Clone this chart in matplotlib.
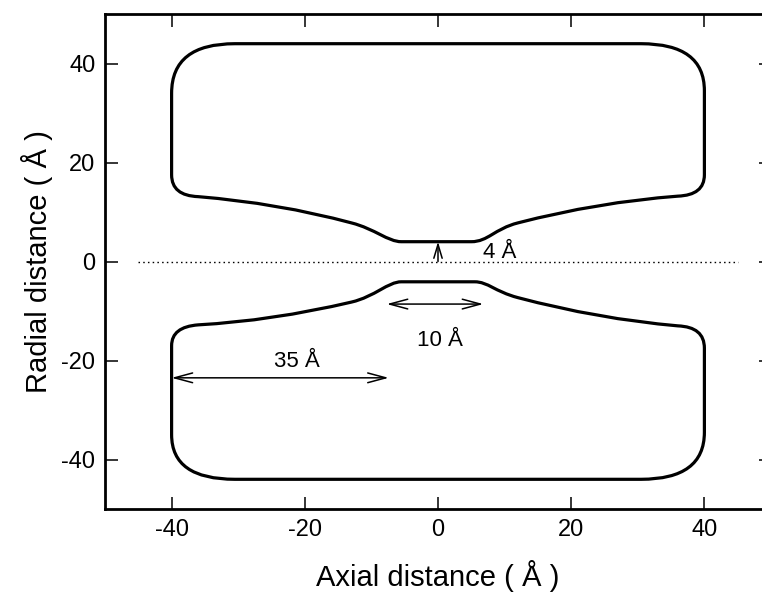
import matplotlib
matplotlib.use("Agg")
import matplotlib.pyplot as plt
from matplotlib.path import Path
from matplotlib.patches import PathPatch

plt.rcParams['font.family'] = ['Liberation Sans', 'DejaVu Sans']
plt.rcParams['axes.unicode_minus'] = False

# ---- data: pore outline (upper and lower halves), as path vertices + codes ----
M, L, C3, C4, CL = Path.MOVETO, Path.LINETO, Path.CURVE3, Path.CURVE4, Path.CLOSEPOLY

upper_verts = [(-40, 17.5), (-40, 34.0),
               (-40, 44.0), (-30.5, 44.0),
               (30.5, 44.0),
               (40, 44.0), (40, 34.5),
               (40, 17.5),
               (40, 13.4), (36, 13.2),
               (24, 12.0), (12, 7.8),
               (8.5, 6.6), (7.5, 4.0), (5.0, 4.0),
               (-5.5, 4.0),
               (-7.5, 4.0), (-9.5, 6.6), (-13.0, 7.8),
               (-24, 11.8), (-36, 13.1),
               (-40, 13.3), (-40, 17.5),
               (-40, 17.5)]
upper_codes = [M, L, C3, C3, L, C3, C3, L, C3, C3, C3, C3, C4, C4, C4, L,
               C4, C4, C4, C3, C3, C3, C3, CL]

lower_verts = [(-40, -17.0), (-40, -35.0),
               (-40, -44.0), (-30.5, -44.0),
               (30.5, -44.0),
               (40, -44.0), (40, -34.5),
               (40, -17.5),
               (40, -13.2), (36, -13.0),
               (24, -11.6), (12, -7.3),
               (8.5, -6.05), (7.5, -4.1), (5.5, -4.1),
               (-5.5, -4.1),
               (-7.5, -4.1), (-9.5, -7.1), (-13.0, -8.2),
               (-25, -12.0), (-36, -12.8),
               (-40, -13.2), (-40, -17.0),
               (-40, -17.0)]
lower_codes = upper_codes

axis_line_x = [-45, 45]
axis_line_y = [0, 0]

xticks = [-40, -20, 0, 20, 40]
yticks = [-40, -20, 0, 20, 40]

# annotations: (x0, y0, x1, y1)
arrow_4A = (0, 0, 0, 4)
arrow_10A = (-7.7, -8.6, 6.8, -8.6)
arrow_35A = (-40, -23.5, -7.4, -23.5)
label_4A = ("4 Å", 9.3, 1.9)
label_10A = ("10 Å", 0.3, -16.0)
label_35A = ("35 Å", -21.2, -20.3)

# ---- figure ----
fig = plt.figure(figsize=(7.62, 5.97), dpi=100)
ax = fig.add_axes([105 / 762, 88 / 597, 666 / 762, 495 / 597])

for verts, codes in [(upper_verts, upper_codes), (lower_verts, lower_codes)]:
    ax.add_patch(PathPatch(Path(verts, codes), fill=False, lw=2.3,
                           edgecolor='black', joinstyle='round', capstyle='round'))

ax.plot(axis_line_x, axis_line_y, color='black', lw=1.0, linestyle=(0, (1.1, 2.3)))

arrow_kw = dict(lw=1.1, color='black', shrinkA=0, shrinkB=0)
ax.annotate('', xy=arrow_4A[2:], xytext=arrow_4A[:2],
            arrowprops=dict(arrowstyle='->,head_length=1.0,head_width=0.3', **arrow_kw))
ax.annotate('', xy=arrow_10A[2:], xytext=arrow_10A[:2],
            arrowprops=dict(arrowstyle='<->,head_length=1.3,head_width=0.35', **arrow_kw))
ax.annotate('', xy=arrow_35A[2:], xytext=arrow_35A[:2],
            arrowprops=dict(arrowstyle='<->,head_length=1.3,head_width=0.35', **arrow_kw))

for txt, x, y in [label_4A, label_10A, label_35A]:
    ax.text(x, y, txt, fontsize=16, ha='center', va='center')

ax.set_xlim(-50, 50)
ax.set_ylim(-50, 50)
ax.set_xticks(xticks)
ax.set_yticks(yticks)
ax.tick_params(direction='in', length=9, width=1.1, labelsize=17, pad=7,
               top=True, right=True)
for s in ax.spines.values():
    s.set_linewidth(2.0)

ax.set_xlabel('Axial distance ( Å )', fontsize=21, labelpad=14)
ax.set_ylabel('Radial distance ( Å )', fontsize=21, labelpad=6)

fig.savefig('out.png', dpi=100)
